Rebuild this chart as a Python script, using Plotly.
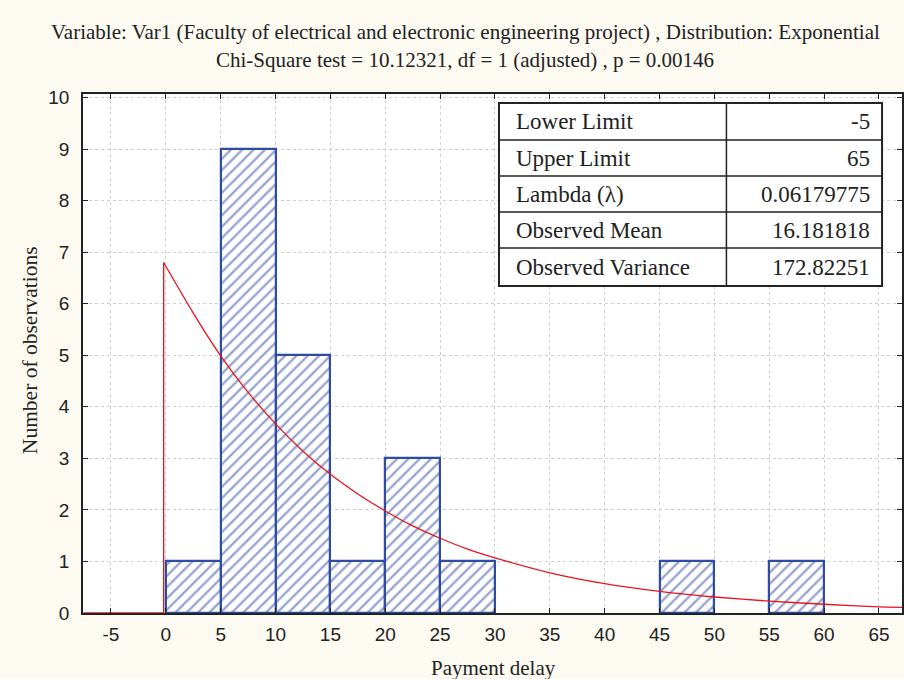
import plotly.graph_objects as go

# Histogram data (bin start, width 5)
bin_starts = [0, 5, 10, 15, 20, 25, 45, 55]
bin_counts = [1, 9, 5, 1, 3, 1, 1, 1]
bin_width = 5

# Fitted exponential curve (expected counts)
base_x = [-7.5, -0.2, -0.2]
base_y = [0, 0, 6.80]
curve_x = [-0.2, 2.5, 5, 7.5, 10, 12.5, 15, 17.5, 20, 22.5, 25, 27.5, 30, 35, 40, 45, 50, 55, 60, 65, 67.1]
curve_y = [6.80, 5.82, 4.99, 4.28, 3.67, 3.14, 2.69, 2.31, 1.98, 1.69, 1.45, 1.24, 1.07, 0.78, 0.57, 0.42, 0.31, 0.23, 0.17, 0.12, 0.11]

x_ticks = list(range(-5, 70, 5))
x_ticktext = [str(v) for v in x_ticks]
y_ticks = list(range(0, 11))

table_labels = ["Lower Limit", "Upper Limit", "Lambda (\u03bb)", "Observed Mean", "Observed Variance"]
table_values = ["-5", "65", "0.06179775", "16.181818", "172.82251"]

title_lines = ["Variable: Var1 (Faculty of electrical and electronic engineering project) , Distribution: Exponential",
               "Chi-Square test = 10.12321, df = 1 (adjusted) , p = 0.00146"]
x_title = "Payment delay"
y_title = "Number of observations"

W, H = 904, 679
L, R, T, B = 83, 0, 94, 66
pw, ph = W - L - R, H - T - B

def px(xp):
    return (xp - L) / pw

def py(yp):
    return (H - B - yp) / ph

SERIF = "Liberation Serif"
INK = "#222"
BLUE = "#2f4ca3"

fig = go.Figure()
fig.add_trace(go.Bar(
    x=[s + bin_width / 2 for s in bin_starts], y=bin_counts, width=bin_width,
    marker=dict(color="white", line=dict(color=BLUE, width=2.2),
                pattern=dict(shape="/", fgcolor=BLUE, bgcolor="white", size=8, solidity=0.3)),
    showlegend=False, hoverinfo="skip"))
fig.add_trace(go.Scatter(x=base_x, y=base_y, mode="lines",
                         line=dict(color="#e8141c", width=1.3),
                         showlegend=False, hoverinfo="skip"))
fig.add_trace(go.Scatter(x=curve_x, y=curve_y, mode="lines",
                         line=dict(color="#e8141c", width=1.3, shape="spline", smoothing=0.6),
                         showlegend=False, hoverinfo="skip"))

shapes = []
annotations = []
# table geometry (pixels)
tx0, tx1, tdiv = 500, 884, 728
row_tops = [103, 140, 176, 212, 248, 286]
shapes.append(dict(type="rect", xref="paper", yref="paper", x0=px(tx0), x1=px(tx1),
                   y0=py(row_tops[-1]), y1=py(row_tops[0]), fillcolor="white",
                   line=dict(color=INK, width=2), layer="above"))
shapes.append(dict(type="line", xref="paper", yref="paper", x0=px(tdiv), x1=px(tdiv),
                   y0=py(row_tops[-1]), y1=py(row_tops[0]), line=dict(color=INK, width=1.5)))
for yy in row_tops[1:-1]:
    shapes.append(dict(type="line", xref="paper", yref="paper", x0=px(tx0), x1=px(tx1),
                       y0=py(yy), y1=py(yy), line=dict(color=INK, width=1.5)))
for i, (lab, val) in enumerate(zip(table_labels, table_values)):
    yc = (row_tops[i] + row_tops[i + 1]) / 2
    annotations.append(dict(xref="paper", yref="paper", x=px(tx0 + 15), y=py(yc), text=lab,
                            showarrow=False, xanchor="left", yanchor="middle",
                            font=dict(family=SERIF, size=23, color=INK)))
    annotations.append(dict(xref="paper", yref="paper", x=px(tx1 - 10), y=py(yc), text=val,
                            showarrow=False, xanchor="right", yanchor="middle",
                            font=dict(family=SERIF, size=23, color=INK)))

for i, line in enumerate(title_lines):
    annotations.append(dict(xref="paper", yref="paper", x=px(466), y=py(32 + 28 * i), text=line,
                            showarrow=False, xanchor="center", yanchor="middle",
                            font=dict(family=SERIF, size=21, color=INK)))

annotations.append(dict(xref="paper", yref="paper", x=px(495), y=py(668), text=x_title,
                        showarrow=False, xanchor="center", yanchor="middle",
                        font=dict(family=SERIF, size=21, color=INK)))
annotations.append(dict(xref="paper", yref="paper", x=px(30), y=py(350), text=y_title,
                        showarrow=False, xanchor="center", yanchor="middle", textangle=-90,
                        font=dict(family=SERIF, size=21.5, color=INK)))

fig.update_layout(
    width=W, height=H, margin=dict(l=L, r=R, t=T, b=B),
    paper_bgcolor="#fdfaf2", plot_bgcolor="white",
    bargap=0, shapes=shapes, annotations=annotations,
    font=dict(family="Liberation Sans", size=19, color=INK),
)
fig.update_xaxes(range=[-7.55, 67.1], tickvals=x_ticks, ticktext=x_ticktext, ticks="inside", ticklen=5, tickcolor=INK,
                 showline=True, linecolor=INK, linewidth=1.5, mirror="ticks",
                 showgrid=True, gridcolor="#d0d0d0", griddash="dot", zeroline=False,
                 ticklabelstandoff=3, tickfont=dict(size=19))
fig.update_yaxes(range=[0, 10.07], tickvals=y_ticks, ticks="inside", ticklen=5, tickcolor=INK,
                 showline=True, linecolor=INK, linewidth=1.5, mirror="ticks",
                 showgrid=True, gridcolor="#d0d0d0", griddash="dot", zeroline=False,
                 ticklabelstandoff=8, tickfont=dict(size=19))

fig.write_html("out.html")
